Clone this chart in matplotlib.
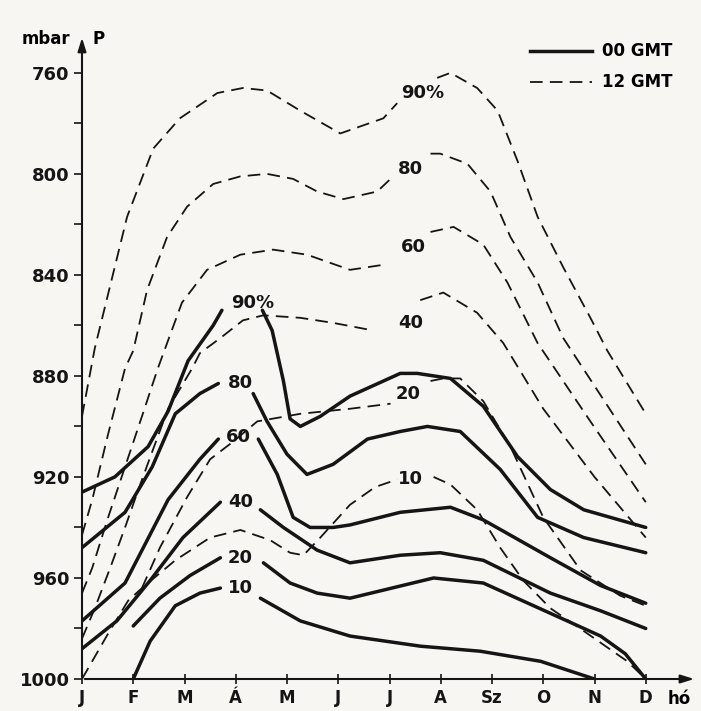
import matplotlib
matplotlib.use('Agg')
from matplotlib import pyplot as plt

months = ['J', 'F', 'M', 'Á', 'M', 'J', 'J', 'A', 'Sz', 'O', 'N', 'D']

# 00 GMT (solid), each curve broken at its label: left part, right part
s90_l = ([0, 0.64, 1.29, 1.68, 2.07, 2.56, 2.73], [926, 920, 908, 894, 874, 860, 854])
s90_r = ([3.52, 3.71, 3.93, 4.06, 4.26, 4.65, 5.23, 6.21, 6.54, 7.19, 7.83, 8.5, 9.14, 9.79, 11],
         [854, 862, 882, 897, 900, 896, 888, 879, 879, 881, 892, 912, 925, 933, 940])
s80_l = ([0, 0.84, 1.37, 1.82, 2.3, 2.66], [948, 934, 916, 895, 887, 883])
s80_r = ([3.34, 3.61, 4.0, 4.39, 4.9, 5.57, 6.21, 6.74, 7.38, 8.16, 8.89, 9.79, 11],
         [887, 898, 911, 919, 915, 905, 902, 900, 902, 917, 936, 944, 950])
s60_l = ([0, 0.84, 1.68, 2.3, 2.66], [977, 962, 929, 913, 905])
s60_r = ([3.44, 3.81, 4.12, 4.45, 4.9, 5.23, 6.21, 7.19, 7.83, 9.14, 10.12, 11],
         [905, 919, 936, 940, 940, 939, 934, 932, 937, 952, 963, 970])
s40_l = ([0, 0.68, 1.33, 1.97, 2.7], [988, 977, 961, 944, 930])
s40_r = ([3.48, 3.93, 4.59, 5.23, 6.21, 6.99, 7.83, 9.14, 10.12, 11],
         [933, 940, 949, 954, 951, 950, 953, 966, 973, 980])
s20_l = ([1.0, 1.52, 2.11, 2.7], [979, 968, 959, 952])
s20_r = ([3.54, 4.06, 4.59, 5.23, 6.86, 7.83, 9.14, 10.12, 10.6, 11],
         [954, 962, 966, 968, 960, 962, 974, 983, 990, 1000])
s10_l = ([1.0, 1.33, 1.82, 2.3, 2.7], [1000, 985, 971, 966, 964])
s10_r = ([3.48, 4.26, 5.23, 6.6, 7.77, 8.95, 10],
         [968, 977, 983, 987, 989, 993, 1000])

# 12 GMT (dashed)
d90_l = ([0, 0.25, 0.88, 1.39, 1.91, 2.64, 3.14, 3.61, 4.26, 5.04, 5.88, 6.15],
         [896, 869, 817, 790, 778, 768, 766, 767, 775, 784, 778, 772])
d90_r = ([6.93, 7.19, 7.71, 8.11, 8.5, 8.89, 9.39, 9.92, 10.25, 11],
         [762, 760, 766, 775, 795, 817, 837, 857, 870, 895])
d80_l = ([0, 0.2, 0.51, 0.84, 1.0, 1.27, 1.66, 2.05, 2.56, 3.09, 3.61, 4.12, 4.59, 5.1, 5.76, 6.02],
         [943, 929, 903, 877, 870, 846, 825, 813, 804, 801, 800, 802, 807, 810, 807, 802])
d80_r = ([6.8, 6.99, 7.52, 7.97, 8.36, 8.89, 9.39, 11],
         [792, 792, 796, 807, 825, 843, 865, 915])
d60_l = ([0, 0.2, 0.51, 0.84, 1.17, 1.48, 1.95, 2.44, 3.09, 3.73, 4.39, 5.23, 5.88],
         [966, 956, 936, 916, 896, 877, 851, 838, 832, 830, 832, 838, 836])
d60_r = ([6.8, 7.25, 7.83, 8.3, 8.89, 9.92, 11],
         [823, 821, 828, 843, 867, 898, 930])
d40_l = ([0, 0.25, 0.55, 0.84, 1.1, 1.37, 1.68, 2.15, 2.3, 2.7, 3.14, 3.54, 4.26, 4.9, 5.68],
         [984, 972, 956, 940, 925, 910, 893, 877, 871, 865, 858, 856, 857, 859, 862])
d40_r = ([6.6, 7.05, 7.71, 8.22, 9.0, 10.0, 11],
         [850, 847, 855, 867, 893, 920, 944])
d20_l = ([1.17, 1.52, 2.05, 2.5, 2.95, 3.42, 4.26, 5.23, 6.02],
         [964, 948, 928, 913, 906, 898, 895, 893, 891])
d20_r = ([6.8, 7.05, 7.38, 7.83, 8.36, 9.0, 9.73, 10.5, 11],
         [882, 881, 881, 890, 908, 936, 957, 967, 971])
d10_l = ([0, 0.51, 0.9, 1.17, 1.82, 2.5, 3.09, 3.67, 4.06, 4.32, 4.65, 5.23, 5.72, 6.15],
         [1000, 982, 969, 964, 953, 944, 941, 945, 950, 951, 944, 931, 924, 921])
d10_r = ([6.86, 7.19, 7.71, 8.16, 8.61, 9.14, 9.79, 10.64, 11],
         [920, 923, 933, 948, 961, 972, 981, 993, 1000])

solid = [s90_l, s90_r, s80_l, s80_r, s60_l, s60_r, s40_l, s40_r, s20_l, s20_r, s10_l, s10_r]
dashed = [d90_l, d90_r, d80_l, d80_r, d60_l, d60_r, d40_l, d40_r, d20_l, d20_r, d10_l, d10_r]

# curve labels: text, month, pressure
solid_labels = [('90%', 3.34, 851), ('80', 3.09, 883), ('60', 3.05, 904),
                ('40', 3.09, 930), ('20', 3.09, 952), ('10', 3.09, 964)]
dashed_labels = [('90%', 6.64, 768), ('80', 6.41, 798), ('60', 6.46, 829),
                 ('40', 6.41, 859), ('20', 6.37, 887), ('10', 6.41, 921)]

plt.rcParams['font.family'] = ['DejaVu Sans']
plt.rcParams['font.weight'] = 'bold'

fig = plt.figure(figsize=(7.01, 7.11), dpi=100)
fig.patch.set_facecolor('#f7f6f2')
ax = fig.add_axes([82/701, 32/711, 615/701, 639/711])
ax.set_facecolor('#f7f6f2')

for xs, ys in solid:
    ax.plot(xs, ys, color='#151515', lw=2.5, solid_capstyle='round', solid_joinstyle='round')
for xs, ys in dashed:
    ax.plot(xs, ys, color='#151515', lw=1.3, dashes=(7, 4))

for t, x, y in solid_labels + dashed_labels:
    ax.text(x, y, t, fontsize=13, fontweight='bold', ha='center', va='center', color='#151515')

ax.set_xlim(0, 12)
ax.set_ylim(1000, 747)
for s in ax.spines.values():
    s.set_visible(False)
ax.set_xticks(range(12))
ax.set_xticklabels(months, fontsize=12, fontweight='bold')
ax.set_yticks(range(760, 1001, 40))
ax.set_yticks(range(780, 1000, 40), minor=True)
ax.set_yticklabels([str(v) for v in range(760, 1001, 40)], fontsize=13, fontweight='bold')
ax.tick_params(axis='x', direction='inout', length=7, width=1.2, pad=4, colors='#151515')
ax.tick_params(axis='y', which='both', direction='out', length=6, width=1.2, pad=3, colors='#151515')

# axes with arrow heads
ax.annotate('', xy=(12, 1000), xytext=(0, 1000), annotation_clip=False,
            arrowprops=dict(arrowstyle='-|>,head_length=0.8,head_width=0.25', lw=1.5, color='#151515'))
ax.annotate('', xy=(0, 745), xytext=(0, 1000), annotation_clip=False,
            arrowprops=dict(arrowstyle='-|>,head_length=0.8,head_width=0.25', lw=1.5, color='#151515'))
ax.text(-0.23, 750, 'mbar', fontsize=12, fontweight='bold', ha='right', va='bottom')
ax.text(0.2, 750, 'P', fontsize=12, fontweight='bold', ha='left', va='bottom')
ax.text(11.65, 1004.5, 'hó', fontsize=12, fontweight='bold', ha='center', va='top')

# legend drawn by hand in the top right corner
ax.plot([8.75, 9.95], [751.5, 751.5], color='#151515', lw=2.5)
ax.plot([8.75, 9.95], [763.5, 763.5], color='#151515', lw=1.3, dashes=(7, 4))
ax.text(10.15, 751.5, '00 GMT', fontsize=12, fontweight='bold', va='center')
ax.text(10.15, 763.5, '12 GMT', fontsize=12, fontweight='bold', va='center')

plt.savefig('out.png', dpi=100, facecolor=fig.get_facecolor())
